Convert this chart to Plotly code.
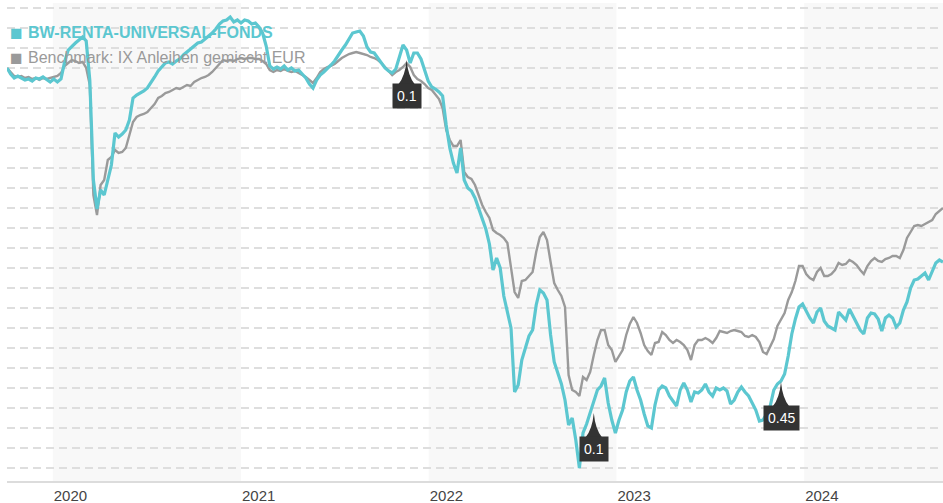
import pandas as pd
import plotly.graph_objects as go

# ---- data (weekly closes) ----
start_date = "2019-10-04"
n_weeks = 261
dates = pd.date_range(start=start_date, periods=n_weeks, freq="7D")

fund_name = "BW-RENTA-UNIVERSAL-FONDS"
bench_name = "Benchmark: IX Anleihen gemischt EUR"

fund = [
    43.2, 42.6, 42.2, 42.4, 42.2, 42.0, 42.1, 41.9, 42.2, 42.1,
    42.3, 42.0, 41.8, 42.1, 41.8, 42.1, 43.8, 45.0, 45.4, 45.7,
    46.0, 46.3, 45.9, 42.0, 32.0, 29.1, 31.0, 30.5, 32.0, 33.5,
    36.7, 36.3, 36.6, 37.0, 38.0, 40.2, 40.5, 40.7, 40.9, 41.2,
    41.7, 42.3, 42.9, 43.3, 43.7, 43.8, 43.6, 43.9, 44.1, 44.5,
    44.8, 45.1, 45.4, 45.7, 45.8, 46.1, 46.3, 46.7, 47.1, 47.6,
    47.9, 48.0, 48.3, 47.8, 48.0, 47.7, 48.0, 47.9, 47.6, 47.7,
    47.3, 46.7, 45.4, 43.4, 43.1, 43.3, 43.1, 43.4, 43.0, 43.2,
    42.9, 43.0, 42.6, 42.2, 41.6, 41.2, 42.0, 42.5, 42.8, 43.1,
    43.5, 43.9, 44.5, 45.0, 45.5, 46.1, 46.7, 46.8, 46.9, 46.4,
    45.3, 44.8, 44.7, 44.2, 43.7, 43.2, 42.9, 42.7, 43.1, 44.4,
    45.5, 45.0, 43.7, 44.7, 44.7, 44.1, 43.0, 41.9, 41.3, 41.1,
    40.8, 40.4, 37.5, 35.2, 33.7, 32.7, 35.2, 32.0, 31.2, 30.9,
    30.2, 29.1, 28.2, 27.1, 25.6, 23.0, 24.2, 23.2, 20.4, 18.9,
    17.2, 10.8, 11.5, 14.0, 15.1, 16.4, 17.0, 19.5, 21.0, 20.7,
    20.0, 16.5, 13.8, 12.8, 11.6, 10.0, 7.5, 8.2, 6.0, 3.2,
    6.7, 7.6, 8.7, 9.9, 11.0, 11.4, 12.2, 9.7, 8.0, 6.7,
    8.0, 9.0, 10.8, 11.9, 12.3, 11.0, 10.0, 8.6, 7.4, 7.2,
    9.5, 11.0, 11.4, 11.2, 10.4, 9.9, 9.4, 11.0, 11.7, 11.0,
    9.8, 10.8, 10.7, 11.0, 11.6, 10.8, 10.4, 11.2, 11.0, 11.2,
    10.9, 9.6, 10.0, 10.8, 11.3, 10.8, 10.4, 9.7, 9.0, 7.9,
    8.0, 8.6, 9.4, 11.0, 11.6, 11.9, 12.6, 14.4, 16.6, 18.1,
    19.3, 19.6, 18.9, 18.2, 17.7, 18.8, 19.2, 17.9, 17.4, 17.2,
    17.0, 18.8, 18.4, 18.0, 19.1, 18.4, 17.8, 17.0, 16.6, 18.2,
    18.7, 18.6, 18.1, 16.9, 18.2, 18.5, 18.2, 17.3, 17.7, 19.0,
    19.8, 21.2, 22.0, 22.1, 22.4, 22.7, 22.0, 22.8, 23.7, 24.0,
    23.8,
]

benchmark = [
    43.2, 42.8, 42.4, 42.3, 42.4, 42.2, 42.3, 42.1, 42.2, 42.0,
    42.2, 42.1, 42.2, 42.3, 42.4, 42.7, 43.4, 43.7, 44.0, 43.9,
    43.7, 43.8, 43.2, 41.5, 30.5, 28.5, 31.5, 32.0, 34.0, 34.3,
    35.0, 34.7, 34.8, 35.2, 36.5, 37.8, 38.3, 38.5, 38.6, 38.8,
    39.2, 39.6, 40.2, 40.4, 40.7, 40.8, 41.0, 41.2, 41.1, 41.3,
    41.5, 41.4, 41.8, 42.0, 42.2, 42.3, 42.5, 42.8, 43.2, 43.6,
    44.0, 43.9, 44.0, 43.9, 44.1, 44.2, 44.1, 44.2, 44.2, 44.1,
    44.1, 43.9, 43.6, 43.0, 42.8, 43.0, 42.9, 43.1, 42.9, 42.8,
    42.9, 42.7, 42.5, 42.3, 42.0, 41.7, 42.2, 42.8, 43.1, 43.3,
    43.4, 43.6, 43.9, 44.2, 44.4, 44.6, 44.7, 44.8, 44.7, 44.6,
    44.5, 44.3, 44.2, 44.0, 43.7, 43.3, 42.9, 42.5, 42.8, 43.0,
    43.3, 43.7, 43.3, 42.5, 42.1, 41.9, 41.6, 41.2, 41.0, 40.6,
    40.1, 39.2, 37.0, 36.0, 35.4, 35.4, 36.0, 32.8, 32.3, 32.1,
    31.5, 30.5, 29.5, 28.8, 28.2, 27.0, 26.7, 26.5, 26.2, 25.7,
    23.2, 20.8, 20.2, 21.9, 22.0, 22.4, 22.8, 24.8, 26.3, 26.8,
    26.0, 23.8, 21.7, 21.0, 20.4, 19.3, 12.5, 11.0, 10.8, 10.4,
    12.3, 12.0, 12.8, 14.5, 16.0, 17.0, 17.0, 15.5, 15.0, 13.8,
    14.4, 15.0, 16.5, 17.6, 18.3, 17.7, 16.7, 15.5, 14.9, 14.5,
    15.7, 15.8, 16.8, 16.5, 16.0, 15.7, 16.0, 15.8, 15.5, 15.0,
    14.0, 15.5, 16.0, 16.0, 16.2, 16.0, 15.7, 16.2, 16.9, 16.8,
    16.7, 16.9, 17.0, 16.9, 16.8, 16.4, 16.3, 16.5, 16.3, 15.8,
    14.8, 14.6, 15.3, 16.1, 17.4, 18.0, 18.7, 20.0, 20.8, 21.9,
    23.4, 23.4, 22.6, 22.2, 22.0, 22.8, 23.2, 22.4, 22.4, 22.6,
    23.0, 23.7, 23.5, 23.6, 24.0, 23.8, 23.5, 23.0, 22.6, 23.4,
    23.9, 24.2, 23.9, 23.8, 24.1, 24.2, 24.4, 24.4, 24.2, 25.0,
    26.2, 26.8, 27.4, 27.5, 27.4, 27.6, 27.8, 28.0, 28.6, 28.9,
    29.2,
]

div_dates = ["2021-11-19", "2022-11-18", "2023-11-17"]
div_levels = [44.0, 8.7, 11.8]
div_labels = ["0.1", "0.1", "0.45"]

year_ticks = ["2020-01-01", "2021-01-01", "2022-01-01", "2023-01-01", "2024-01-01"]
year_labels = ["2020", "2021", "2022", "2023", "2024"]
shaded_years = [("2020-01-01", "2021-01-01"), ("2022-01-01", "2023-01-01"), ("2024-01-01", "2025-01-01")]

# ---- styling ----
TEAL = "#5cc7d0"
GREY = "#9a9a9a"
FONT = "Arial, Liberation Sans, sans-serif"

fig = go.Figure()
fig.add_trace(go.Scatter(x=dates, y=benchmark, mode="lines", name=bench_name,
                         line=dict(color=GREY, width=2.4), hoverinfo="skip"))
fig.add_trace(go.Scatter(x=dates, y=fund, mode="lines", name=fund_name,
                         line=dict(color=TEAL, width=3.2), hoverinfo="skip"))

shapes = []
for a, b in shaded_years:
    shapes.append(dict(type="rect", xref="x", yref="paper", x0=a, x1=b, y0=0, y1=1,
                       fillcolor="#f8f8f8", line=dict(width=0), layer="below"))
for d, lv in zip(div_dates, div_levels):
    shapes.append(dict(type="path", xref="x", yref="y", xsizemode="pixel", ysizemode="pixel",
                       xanchor=d, yanchor=lv,
                       path="M 0 0 Q -1.5 -16 -8 -24 L 8 -24 Q 1.5 -16 0 0 Z",
                       fillcolor="#333333", line=dict(width=0), layer="above"))

annotations = []
for d, lv, t in zip(div_dates, div_levels, div_labels):
    annotations.append(dict(x=d, y=lv, xref="x", yref="y", text=t, showarrow=False,
                            xanchor="center", yanchor="top", yshift=-23,
                            bgcolor="#333333", borderpad=4,
                            font=dict(family=FONT, size=14, color="white")))

# legend drawn as text
annotations += [
    dict(xref="paper", yref="paper", x=0, y=1, xanchor="left", yanchor="middle",
         xshift=1, yshift=-29, text="■", showarrow=False,
         font=dict(family=FONT, size=21, color=TEAL)),
    dict(xref="paper", yref="paper", x=0, y=1, xanchor="left", yanchor="middle",
         xshift=19, yshift=-29, text="<b>" + fund_name + "</b>", showarrow=False,
         font=dict(family=FONT, size=16, color=TEAL)),
    dict(xref="paper", yref="paper", x=0, y=1, xanchor="left", yanchor="middle",
         xshift=1, yshift=-54, text="■", showarrow=False,
         font=dict(family=FONT, size=21, color=GREY)),
    dict(xref="paper", yref="paper", x=0, y=1, xanchor="left", yanchor="middle",
         xshift=19, yshift=-54, text=bench_name, showarrow=False,
         font=dict(family=FONT, size=16, color=GREY)),
]

fig.update_layout(
    width=943, height=503,
    margin=dict(l=7, r=0, t=3, b=22, autoexpand=False),
    paper_bgcolor="white", plot_bgcolor="white",
    showlegend=False,
    shapes=shapes, annotations=annotations,
    font=dict(family=FONT),
    xaxis=dict(type="date", range=[dates[0], dates[-1]],
               tickmode="array", tickvals=year_ticks, ticktext=year_labels,
               ticklabelposition="outside right",
               showgrid=False, zeroline=False, ticks="",
               showline=True, linecolor="#dcdcdc", linewidth=2,
               tickfont=dict(family=FONT, size=15, color="#444444")),
    yaxis=dict(range=[1.9, 49.7], tick0=1.2, dtick=2,
               showticklabels=False, zeroline=False, ticks="",
               showgrid=True, gridcolor="#dedede", gridwidth=1.5, griddash="8px,5px"),
)

fig.write_html("out.html", config={"displayModeBar": False},
               post_script="document.body.style.margin='0';document.body.style.padding='0';")
